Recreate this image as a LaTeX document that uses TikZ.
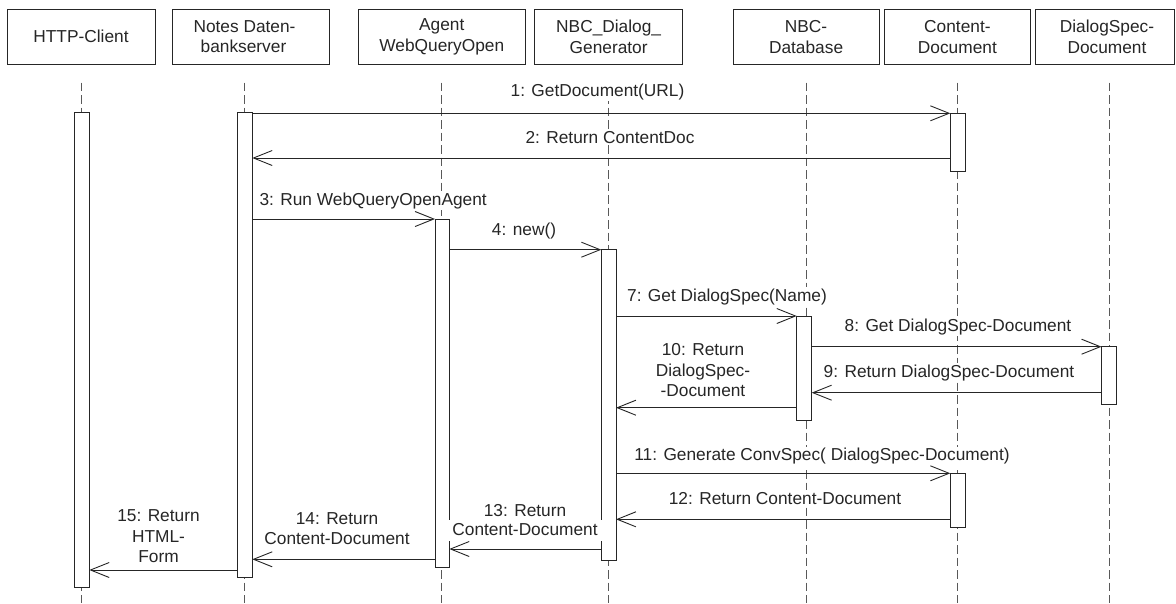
\documentclass[tikz,border=0pt]{standalone}
\usepackage{fontspec}
\setmainfont{Liberation Sans}
\usetikzlibrary{arrows.meta}
% stacked, centred label lines; the box baseline is the last line's baseline
\newcommand\stackedlbl[1]{\begin{tabular}[b]{@{}c@{}}#1\end{tabular}}
\begin{document}
\begin{tikzpicture}[x=1pt,y=-1pt,
  every node/.style={font=\fontsize{17.3}{20.5}\selectfont, text=black!85},
  hdr/.style={draw=black!85, line width=0.9pt, minimum height=55pt, inner sep=0pt, align=center},
  lifeline/.style={draw=black!65, line width=0.9pt, dash pattern=on 8.3pt off 4.2pt},
  actbar/.style={draw=black!85, fill=white, line width=0.9pt, minimum width=15pt, inner sep=0pt, outer sep=0pt},
  msg/.style={draw=black!85, line width=0.9pt, -{Straight Barb[length=18.7pt,width=15pt,line width=0.9pt]}},
  lbl/.style={fill=white, inner xsep=1.5pt, inner ysep=1.5pt, anchor=base},
]
\useasboundingbox[fill=white] (0,0) rectangle (1176,603);

% object boxes
\node[hdr, minimum width=148pt]   (hHttp) at (81,36.8)    {HTTP-Client};
\node[hdr, minimum width=157pt]   (hNotes) at (250.5,36.8) {Notes Daten-\hspace*{12pt}\\bankserver\hspace*{14pt}};
\node[hdr, minimum width=166.4pt] (hAgent) at (441.8,36.8) {Agent\\WebQueryOpen};
\node[hdr, minimum width=148pt]   (hNbc) at (608.65,36.8)  {NBC\_Dialog\_\\Generator};
\node[hdr, minimum width=146.2pt] (hDb) at (806.1,36.8)    {NBC-\\Database};
\node[hdr, minimum width=146.4pt] (hCont) at (957.4,36.8)  {Content-\\Document};
\node[hdr, minimum width=139pt]   (hDs) at (1105,36.8)     {\hspace*{4pt}DialogSpec-\\\hspace*{4pt}Document};

% lifelines
\foreach \n/\x in {Http/81.7, Notes/244.7, Agent/441.7, Nbc/608.3, Db/806.7, Cont/957.7, Ds/1109.4}{
  \coordinate (t\n) at (\x,82.7);
  \coordinate (e\n) at (\x,603);
  \draw[lifeline] (t\n) -- (e\n);
}

% activation bars
\node[actbar, minimum width=15.3pt, minimum height=474.6pt] (bHttp) at (81.65,350) {};
\node[actbar, minimum height=464.6pt] (bNotes) at (244.8,345) {};
\node[actbar, minimum height=57.7pt]  (bCont1) at (957.8,142.15) {};
\node[actbar, minimum width=14.3pt, minimum height=348.7pt] (bAgent) at (442.15,393.35) {};
\node[actbar, minimum width=14.7pt, minimum height=310.8pt] (bNbc) at (608.65,405.1) {};
\node[actbar, minimum height=104pt]   (bDb) at (804.2,368) {};
\node[actbar, minimum height=57.3pt]  (bDs) at (1109,375.35) {};
\node[actbar, minimum height=54pt]    (bCont2) at (957.8,500.3) {};

% message labels
\node[lbl] (l1) at (597.5,96) {1: GetDocument(URL)};
\node[lbl] (l2) at (610,143) {2: Return ContentDoc};
\node[lbl, anchor=base west] (l3) at (257.8,205) {3: Run WebQueryOpenAgent};
\node[lbl] (l4) at (524,235) {4: new()};
\node[lbl] (l7) at (727,301.5) {7: Get DialogSpec(Name)};
\node[lbl] (l8) at (958,331) {8: Get DialogSpec-Document};
\node[lbl] (l9) at (949,377) {9: Return DialogSpec-Document};
\node[lbl] (l10) at (703,396.7) {\stackedlbl{10: Return\\DialogSpec-\\-Document}};
\node[lbl] (l11) at (822,460.7) {11: Generate ConvSpec( DialogSpec-Document)};
\node[lbl] (l12) at (785,504) {12: Return Content-Document};
\node[lbl] (l13a) at (525,516) {13: Return};
\node[lbl, inner xsep=5pt, text height=14pt, text depth=4pt] (l13b) at (525,535) {Content-Document};
\node[lbl] (l14) at (337,544.5) {\stackedlbl{14: Return\\Content-Document}};
\node[lbl] (l15) at (158.5,562.5) {\stackedlbl{15: Return\\HTML-\\Form}};

% messages
\draw[msg] (bNotes.east |- 0,113.3) -- (bCont1.west |- 0,113.3);
\draw[msg] (bCont1.west |- 0,158) -- (bNotes.east |- 0,158);
\draw[msg] (bNotes.east |- 0,219) -- (bAgent.west |- 0,219);
\draw[msg] (bAgent.east |- 0,249.7) -- (bNbc.west |- 0,249.7);
\draw[msg] (bNbc.east |- 0,316) -- (bDb.west |- 0,316);
\draw[msg] (bDb.east |- 0,346.7) -- (bDs.west |- 0,346.7);
\draw[msg] (bDs.west |- 0,392.7) -- (bDb.east |- 0,392.7);
\draw[msg] (bDb.west |- 0,407.7) -- (bNbc.east |- 0,407.7);
\draw[msg] (bNbc.east |- 0,473.3) -- (bCont2.west |- 0,473.3);
\draw[msg] (bCont2.west |- 0,519.3) -- (bNbc.east |- 0,519.3);
\draw[msg] (bNbc.west |- 0,549) -- (bAgent.east |- 0,549);
\draw[msg] (bAgent.west |- 0,559.3) -- (bNotes.east |- 0,559.3);
\draw[msg] (bNotes.west |- 0,570) -- (bHttp.east |- 0,570);
\end{tikzpicture}
\end{document}
